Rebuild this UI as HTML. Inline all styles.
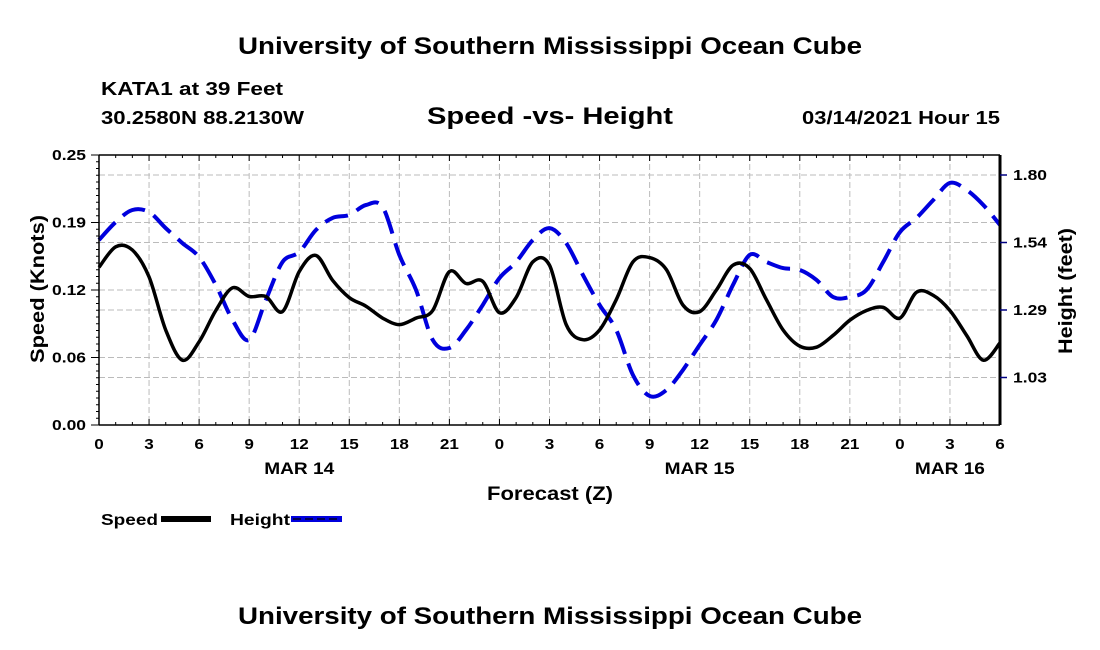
<!DOCTYPE html>
<html><head><meta charset="utf-8">
<style>
html,body{margin:0;padding:0;background:#fff;}
svg{display:block;font-family:"Liberation Sans",Arial,sans-serif;font-weight:bold;}
</style></head>
<body>
<svg id="chart" width="1100" height="650" viewBox="0 0 1100 650" xmlns="http://www.w3.org/2000/svg">
<rect width="1100" height="650" fill="#fff"/>
<text x="238" y="54" font-size="24" textLength="624" lengthAdjust="spacingAndGlyphs">University of Southern Mississippi Ocean Cube</text>
<text x="101" y="95" font-size="18" textLength="182" lengthAdjust="spacingAndGlyphs">KATA1 at 39 Feet</text>
<text x="101" y="124" font-size="18" textLength="203" lengthAdjust="spacingAndGlyphs">30.2580N 88.2130W</text>
<text x="427" y="124" font-size="24" textLength="246" lengthAdjust="spacingAndGlyphs">Speed -vs- Height</text>
<text x="802" y="124" font-size="18" textLength="198" lengthAdjust="spacingAndGlyphs">03/14/2021 Hour 15</text>
<g id="grid"></g>
<g id="series"></g>
<g id="axes"></g>
<text transform="translate(44,363) rotate(-90)" font-size="19" textLength="148" lengthAdjust="spacingAndGlyphs">Speed (Knots)</text>
<text transform="translate(1072,354) rotate(-90)" font-size="19" textLength="126" lengthAdjust="spacingAndGlyphs">Height (feet)</text>
<text x="487" y="500" font-size="19" textLength="126" lengthAdjust="spacingAndGlyphs">Forecast (Z)</text>
<g>
<text x="101" y="525" font-size="16" textLength="57" lengthAdjust="spacingAndGlyphs">Speed</text>
<rect x="161" y="516" width="50" height="6" fill="#000"/>
<text x="230" y="525" font-size="16" textLength="60" lengthAdjust="spacingAndGlyphs">Height</text>
<rect x="291" y="516" width="51" height="6" fill="#0000dd"/>
<line x1="293" y1="519" x2="340" y2="519" stroke="#000" stroke-width="1.2" stroke-dasharray="8,4"/>
</g>
<text x="238" y="624" font-size="24" textLength="624" lengthAdjust="spacingAndGlyphs">University of Southern Mississippi Ocean Cube</text>
</svg>
<script>
const hours = [];
for (let i = 0; i <= 54; i++) hours.push(i);
const speedVals = [0.146,0.165,0.162,0.137,0.088,0.060,0.077,0.106,0.127,0.119,0.119,0.105,0.142,0.157,0.134,0.118,0.110,0.099,0.093,0.099,0.106,0.142,0.131,0.133,
0.104,0.118,0.151,0.148,0.093,0.079,0.088,0.116,0.151,0.155,0.144,0.111,0.105,0.125,0.148,0.145,0.116,0.088,0.073,0.072,0.083,0.097,0.106,0.109,
0.099,0.123,0.120,0.106,0.083,0.060,0.076];
const heightVals = [1.553,1.621,1.667,1.659,1.598,1.541,1.488,1.382,1.249,1.173,1.325,1.469,1.507,1.591,1.637,1.648,1.686,1.678,1.496,1.363,1.173,1.142,1.211,1.306,
1.408,1.469,1.553,1.598,1.541,1.420,1.306,1.211,1.040,0.960,0.982,1.059,1.154,1.249,1.382,1.496,1.469,1.446,1.439,1.401,1.336,1.336,1.363,1.469,
1.583,1.637,1.705,1.770,1.743,1.686,1.610];
const xTickLabels = ["0","3","6","9","12","15","18","21","0","3","6","9","12","15","18","21","0","3","6"];
const dayLabels = ["MAR 14","MAR 15","MAR 16"];
const dayLabelHours = [12,36,51];
const speedTickVals = [0,0.0625,0.125,0.1875,0.25];
const speedTickLabels = ["0.00","0.06","0.12","0.19","0.25"];
const heightTickVals = [1.03,1.2867,1.5433,1.80];
const heightTickLabels = ["1.03","1.29","1.54","1.80"];

const L=99,R=1000,T=155,B=425;
const x = h => L + (h/54)*(R-L);
const yS = v => B - (v/0.25)*(B-T);
const yH = v => 175 + (1.80 - v)*(377.5-175)/(1.80-1.03);
const NS="http://www.w3.org/2000/svg";
function mk(tag, attrs, parent){const e=document.createElementNS(NS,tag);for(const k in attrs)e.setAttribute(k,attrs[k]);parent.appendChild(e);return e;}
const grid=document.getElementById('grid'), axes=document.getElementById('axes'), series=document.getElementById('series');

for(let i=1;i<xTickLabels.length-1;i++){
  const l=mk('line',{x1:x(i*3),x2:x(i*3),y1:T,y2:B,stroke:'#bbb','stroke-width':1,'stroke-dasharray':'6,3'},grid);
  
  
}
speedTickVals.slice(1,-1).forEach(v=>{
  const l=mk('line',{x1:L,x2:R,y1:yS(v),y2:yS(v),stroke:'#bbb','stroke-width':1,'stroke-dasharray':'6,3'},grid);
  
  
});
heightTickVals.forEach(v=>{
  const l=mk('line',{x1:L,x2:R,y1:yH(v),y2:yH(v),stroke:'#bbb','stroke-width':1,'stroke-dasharray':'6,3'},grid);
  
  
});

function smooth(pts){
  let d='M'+pts[0][0]+','+pts[0][1];
  for(let i=0;i<pts.length-1;i++){
    const p0=pts[Math.max(0,i-1)],p1=pts[i],p2=pts[i+1],p3=pts[Math.min(pts.length-1,i+2)];
    const c1x=p1[0]+(p2[0]-p0[0])/6,c1y=p1[1]+(p2[1]-p0[1])/6;
    const c2x=p2[0]-(p3[0]-p1[0])/6,c2y=p2[1]-(p3[1]-p1[1])/6;
    d+=' C'+c1x.toFixed(1)+','+c1y.toFixed(1)+' '+c2x.toFixed(1)+','+c2y.toFixed(1)+' '+p2[0].toFixed(1)+','+p2[1].toFixed(1);
  }
  return d;
}
const hp=mk('path',{d:smooth(hours.map((h,i)=>[x(h),yH(heightVals[i])])),fill:'none',stroke:'#0000dd','stroke-width':4,'stroke-dasharray':'24,10'},series);


const sp=mk('path',{d:smooth(hours.map((h,i)=>[x(h),yS(speedVals[i])])),fill:'none',stroke:'#000','stroke-width':3.5,'stroke-linejoin':'round'},series);



mk('line',{x1:L,x2:R,y1:T,y2:T,stroke:'#000','stroke-width':1.5},axes);
mk('line',{x1:L,x2:R,y1:B,y2:B,stroke:'#000','stroke-width':1.5},axes);
mk('line',{x1:L,x2:L,y1:T,y2:B,stroke:'#000','stroke-width':1.5},axes);
mk('line',{x1:R,x2:R,y1:T,y2:B,stroke:'#000','stroke-width':3},axes);
for(let h=0;h<=54;h++){
  const len=(h%3===0)?6:3;
  mk('line',{x1:x(h),x2:x(h),y1:B,y2:B-len,stroke:'#000','stroke-width':1},axes);
  mk('line',{x1:x(h),x2:x(h),y1:T,y2:T+len,stroke:'#000','stroke-width':1},axes);
}
xTickLabels.forEach((t,i)=>{
  const w=t.length*9.5;
  const e=mk('text',{x:x(i*3)-w/2,y:449,'font-size':15,textLength:w,lengthAdjust:'spacingAndGlyphs'},axes);
  e.textContent=t;
  
  
});
dayLabels.forEach((t,i)=>{
  const e=mk('text',{x:x(dayLabelHours[i])-35,y:474,'font-size':17,textLength:70,lengthAdjust:'spacingAndGlyphs'},axes);
  e.textContent=t;
  
  
});
for(let k=0;k<=40;k++){
  const v=k*0.25/40;const len=(k%10===0)?8:3;
  mk('line',{x1:L-len,x2:L,y1:yS(v),y2:yS(v),stroke:'#000','stroke-width':1},axes);
}
speedTickLabels.forEach((t,i)=>{
  const e=mk('text',{x:52,y:yS(speedTickVals[i])+5,'font-size':15,textLength:34,lengthAdjust:'spacingAndGlyphs'},axes);
  e.textContent=t;
  
  
});
heightTickLabels.forEach((t,i)=>{
  mk('line',{x1:R,x2:R+7,y1:yH(heightTickVals[i]),y2:yH(heightTickVals[i]),stroke:'#000080','stroke-width':1.5},axes);
  const e=mk('text',{x:1013,y:yH(heightTickVals[i])+5,'font-size':15,textLength:34,lengthAdjust:'spacingAndGlyphs'},axes);
  e.textContent=t;
  
  
});
</script>
</body></html>
